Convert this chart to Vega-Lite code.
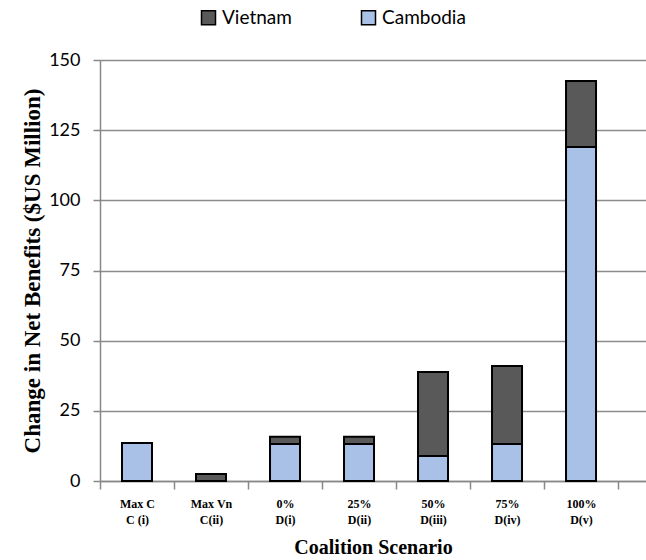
{
  "$schema": "https://vega.github.io/schema/vega-lite/v6.json",
  "autosize": "none",
  "padding": {"left": 100, "top": 60, "right": 0, "bottom": 79},
  "width": 546,
  "height": 421,
  "background": "white",
  "data": {
    "values": [
      {"scenario": "Max C|C (i)", "country": "Cambodia", "value": 13.5},
      {"scenario": "Max C|C (i)", "country": "Vietnam", "value": 0},
      {"scenario": "Max Vn|C(ii)", "country": "Cambodia", "value": 0},
      {"scenario": "Max Vn|C(ii)", "country": "Vietnam", "value": 2.5},
      {"scenario": "0%|D(i)", "country": "Cambodia", "value": 13.2},
      {"scenario": "0%|D(i)", "country": "Vietnam", "value": 2.6},
      {"scenario": "25%|D(ii)", "country": "Cambodia", "value": 13.2},
      {"scenario": "25%|D(ii)", "country": "Vietnam", "value": 2.6},
      {"scenario": "50%|D(iii)", "country": "Cambodia", "value": 8.9},
      {"scenario": "50%|D(iii)", "country": "Vietnam", "value": 29.9},
      {"scenario": "75%|D(iv)", "country": "Cambodia", "value": 13.2},
      {"scenario": "75%|D(iv)", "country": "Vietnam", "value": 27.8},
      {"scenario": "100%|D(v)", "country": "Cambodia", "value": 119},
      {"scenario": "100%|D(v)", "country": "Vietnam", "value": 23.5}
    ]
  },
  "mark": {"type": "bar", "width": 30, "stroke": "black", "strokeWidth": 2},
  "encoding": {
    "x": {
      "field": "scenario",
      "type": "nominal",
      "sort": null,
      "scale": {"paddingInner": 0, "paddingOuter": 0.189, "align": 0},
      "axis": {
        "labelExpr": "split(datum.label, '|')",
        "labelAngle": 0,
        "labelFont": "Liberation Serif",
        "labelFontWeight": "bold",
        "labelFontSize": 12,
        "labelLineHeight": 16,
        "labelColor": "black",
        "labelPadding": 9,
        "tickBand": "extent",
        "tickSize": 8,
        "tickColor": "#888888",
        "tickWidth": 1.5,
        "domainColor": "#888888",
        "domainWidth": 1.5,
        "title": "Coalition Scenario",
        "titleFont": "Liberation Serif",
        "titleFontWeight": "bold",
        "titleFontSize": 20,
        "titleColor": "black",
        "titlePadding": 12
      }
    },
    "y": {
      "field": "value",
      "type": "quantitative",
      "stack": "zero",
      "scale": {"domain": [0, 150], "nice": false},
      "axis": {
        "values": [0, 25, 50, 75, 100, 125, 150],
        "labelFont": "Lato",
        "labelFontSize": 18,
        "labelColor": "black",
        "labelPadding": 13,
        "tickSize": 7,
        "tickColor": "#888888",
        "tickWidth": 1.5,
        "domainColor": "#888888",
        "domainWidth": 1.5,
        "grid": true,
        "gridColor": "#8c8c8c",
        "gridWidth": 1.5,
        "title": "Change in Net Benefits ($US Million)",
        "titleFont": "Liberation Serif",
        "titleFontWeight": "bold",
        "titleFontSize": 23,
        "titleColor": "black",
        "titlePadding": 4
      }
    },
    "color": {
      "field": "country",
      "type": "nominal",
      "scale": {"domain": ["Vietnam", "Cambodia"], "range": ["#595959", "#a9c1e6"]},
      "legend": {
        "title": null,
        "orient": "none",
        "direction": "horizontal",
        "legendX": 99,
        "legendY": -52,
        "columns": 2,
        "columnPadding": 66,
        "symbolType": "square",
        "symbolSize": 196,
        "symbolStrokeColor": "black",
        "symbolStrokeWidth": 1.5,
        "symbolOpacity": 1,
        "labelFont": "Lato",
        "labelFontSize": 19,
        "labelColor": "black",
        "labelOffset": 4
      }
    },
    "order": {"field": "country", "sort": "ascending"}
  },
  "config": {"view": {"stroke": null}}
}
